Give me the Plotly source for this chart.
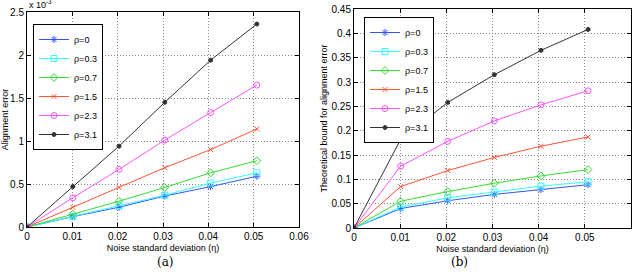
import plotly.graph_objects as go

x_vals = [0, 0.0101, 0.0203, 0.0304, 0.0405, 0.0507]
labels = ["ρ=0", "ρ=0.3", "ρ=0.7", "ρ=1.5", "ρ=2.3", "ρ=3.1"]

# (a) Alignment error, in units of 1e-3
err_rho0 = [0, 0.12, 0.23, 0.36, 0.47, 0.59]
err_rho03 = [0, 0.12, 0.25, 0.37, 0.51, 0.63]
err_rho07 = [0, 0.15, 0.30, 0.46, 0.63, 0.77]
err_rho15 = [0, 0.23, 0.46, 0.69, 0.90, 1.14]
err_rho23 = [0, 0.34, 0.67, 1.01, 1.33, 1.65]
err_rho31 = [0, 0.47, 0.94, 1.45, 1.94, 2.36]

# (b) Theoretical bound
bnd_rho0 = [0, 0.040, 0.056, 0.069, 0.079, 0.089]
bnd_rho03 = [0, 0.043, 0.062, 0.074, 0.086, 0.095]
bnd_rho07 = [0, 0.055, 0.075, 0.092, 0.107, 0.120]
bnd_rho15 = [0, 0.085, 0.118, 0.145, 0.168, 0.187]
bnd_rho23 = [0, 0.127, 0.178, 0.220, 0.253, 0.282]
bnd_rho31 = [0, 0.182, 0.258, 0.315, 0.365, 0.408]

x_ticks = [0, 0.01, 0.02, 0.03, 0.04, 0.05, 0.06]
x_ticklabels = ["0", "0.01", "0.02", "0.03", "0.04", "0.05", "0.06"]
ya_ticks = [0, 0.5, 1, 1.5, 2, 2.5]
ya_ticklabels = ["0", "0.5", "1", "1.5", "2", "2.5"]
yb_ticks = [0, 0.05, 0.1, 0.15, 0.2, 0.25, 0.3, 0.35, 0.4, 0.45]
yb_ticklabels = ["0", "0.05", "0.1", "0.15", "0.2", "0.25", "0.3", "0.35", "0.4", "0.45"]

colors = ["#3355ff", "#33ffff", "#33dd33", "#ff5533", "#ff55ff", "#333333"]
symbols = ["asterisk-open", "square-open", "diamond-open", "x-thin-open", "circle-open", "circle"]
msizes = [6, 6, 6, 5, 6, 4]

series_a = [err_rho0, err_rho03, err_rho07, err_rho15, err_rho23, err_rho31]
series_b = [bnd_rho0, bnd_rho03, bnd_rho07, bnd_rho15, bnd_rho23, bnd_rho31]

fig = go.Figure()
for i in range(6):
    fig.add_trace(go.Scatter(
        x=x_vals, y=series_a[i], name=labels[i], mode="lines+markers",
        line=dict(color=colors[i], width=1),
        marker=dict(symbol=symbols[i], size=msizes[i], color=colors[i],
                    line=dict(color=colors[i], width=1)),
        xaxis="x", yaxis="y", legend="legend"))
for i in range(6):
    fig.add_trace(go.Scatter(
        x=x_vals, y=series_b[i], name=labels[i], mode="lines+markers",
        line=dict(color=colors[i], width=1),
        marker=dict(symbol=symbols[i], size=msizes[i], color=colors[i],
                    line=dict(color=colors[i], width=1)),
        xaxis="x2", yaxis="y2", legend="legend2"))

font = dict(family="Liberation Sans, Arial, sans-serif", size=10, color="black")
small = dict(family="Liberation Sans, Arial, sans-serif", size=9, color="black")
common = dict(showline=True, linecolor="black", linewidth=1, mirror="ticks",
              ticks="inside", ticklen=4, tickcolor="black",
              showgrid=True, gridcolor="#888888", griddash="1px,2px", gridwidth=1,
              zeroline=False, tickfont=font, automargin=False)

fig.update_layout(
    width=640, height=277,
    margin=dict(l=0, r=0, t=0, b=0),
    paper_bgcolor="white", plot_bgcolor="white",
    font=font,
    xaxis=dict(domain=[27/640, 299/640], range=[0, 0.06], tickvals=x_ticks,
               ticktext=x_ticklabels, anchor="y",
               title=dict(text="Noise standard deviation (η)", font=small, standoff=3), **common),
    yaxis=dict(domain=[1-227/277, 1-12/277], range=[0, 2.5], tickvals=ya_ticks,
               ticktext=ya_ticklabels, anchor="x",
               title=dict(text="Alignment error", font=small, standoff=2), **common),
    xaxis2=dict(domain=[354/640, 631/640], range=[0, 0.06], tickvals=x_ticks,
                ticktext=x_ticklabels, anchor="y2",
                title=dict(text="Noise standard deviation (η)", font=small, standoff=3), **common),
    yaxis2=dict(domain=[1-228/277, 1-9/277], range=[0, 0.45], tickvals=yb_ticks,
                ticktext=yb_ticklabels, anchor="x2",
                title=dict(text="Theoretical bound for alignment error", font=small, standoff=2), **common),
    legend=dict(x=33/640, y=1-24/277, xanchor="left", yanchor="top",
                bgcolor="white", bordercolor="black", borderwidth=1,
                font=dict(family="Liberation Sans, Arial, sans-serif", size=9),
                tracegroupgap=0, itemwidth=30),
    legend2=dict(x=364/640, y=1-17/277, xanchor="left", yanchor="top",
                 bgcolor="white", bordercolor="black", borderwidth=1,
                 font=dict(family="Liberation Sans, Arial, sans-serif", size=9),
                 tracegroupgap=0, itemwidth=30),
    annotations=[
        dict(text="x 10<sup>-3</sup>", x=27/640, y=1-12/277, xref="paper", yref="paper",
             xanchor="left", yanchor="bottom", showarrow=False, font=small),
        dict(text="(a)", x=155/640, y=1-271/277, xref="paper", yref="paper",
             showarrow=False, font=dict(family="DejaVu Serif, Liberation Serif, serif", size=12)),
        dict(text="(b)", x=470/640, y=1-271/277, xref="paper", yref="paper",
             showarrow=False, font=dict(family="DejaVu Serif, Liberation Serif, serif", size=12)),
    ],
)

fig.write_html("out.html", config={"displayModeBar": False},
               post_script="document.body.style.margin='0';document.body.style.overflow='hidden';")
